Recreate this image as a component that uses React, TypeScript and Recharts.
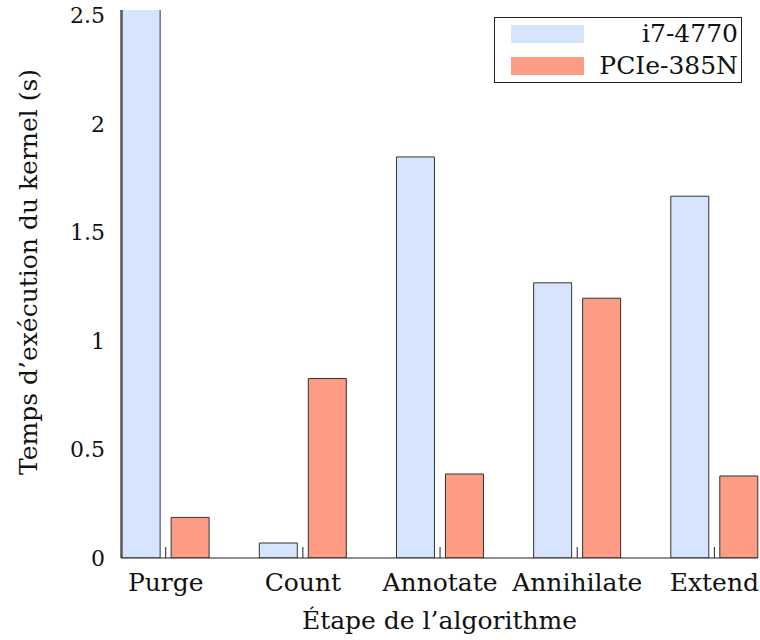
import React from 'react'
import { BarChart, Bar, XAxis, YAxis, Legend } from 'recharts'

const categories = ['Purge', 'Count', 'Annotate', 'Annihilate', 'Extend']
const seriesNames = ['i7-4770', 'PCIe-385N']
const i7Values = [2.62, 0.069, 1.848, 1.268, 1.667]
const pcieValues = [0.187, 0.827, 0.387, 1.197, 0.378]
const yTicks = [0, 0.5, 1, 1.5, 2, 2.5]
const xTicks = categories.map((_, i) => i)

const data = categories.map((name, i) => ({ idx: i, name, i7: i7Values[i], pcie: pcieValues[i] }))

const FONT = '"DejaVu Serif", serif'
const INK = '#222'
const BLUE = '#d6e4fd'
const RED = '#fd9c84'

const BottomTick = (props: any) => {
  const { x, y, payload } = props
  return (
    <g>
      <line x1={x} x2={x} y1={y} y2={y - 11} stroke={INK} strokeWidth={1} />
      <text x={x} y={y + 33} textAnchor="middle" fontSize={25} style={{ fontFamily: FONT }} fill="#111">
        {categories[payload.value]}
      </text>
    </g>
  )
}

const TopTick = (props: any) => {
  const { x, y } = props
  return <line x1={x} x2={x} y1={y} y2={y + 11} stroke={INK} strokeWidth={1} />
}

const LeftTick = (props: any) => {
  const { x, y, payload } = props
  return (
    <text x={x} y={y} dy="0.36em" textAnchor="end" fontSize={22} style={{ fontFamily: FONT }} fill="#111">
      {String(payload.value)}
    </text>
  )
}

const RightTick = (props: any) => {
  const { x, y } = props
  return <line x1={x} x2={x - 11} y1={y} y2={y} stroke={INK} strokeWidth={1} />
}

const LegendBox = (props: any) => {
  const items = [...(props.payload || [])].sort((a: any, b: any) => seriesNames.indexOf(a.value) - seriesNames.indexOf(b.value))
  return (
    <div style={{ border: `1.5px solid ${INK}`, background: '#fff', width: 248, height: 66, boxSizing: 'border-box', fontFamily: FONT }}>
      {items.map((it: any) => (
        <div key={it.value} style={{ height: 32, display: 'flex', alignItems: 'center', position: 'relative' }}>
          <div style={{ width: 73, height: 18, background: it.color, marginLeft: 16 }} />
          <div style={{ position: 'absolute', right: 3, fontSize: 25, color: '#111', lineHeight: '32px' }}>{it.value}</div>
        </div>
      ))}
    </div>
  )
}

const YLabel = (props: any) => {
  const { viewBox } = props
  const cy = viewBox.y + viewBox.height / 2 - 12
  return (
    <text transform={`translate(28,${cy}) rotate(-90)`} textAnchor="middle" dy="0.35em" fontSize={25} style={{ fontFamily: FONT }} fill="#111">
      Temps d’exécution du kernel (s)
    </text>
  )
}

const XLabel = (props: any) => {
  const { viewBox } = props
  const cx = viewBox.x + viewBox.width / 2
  return (
    <text x={cx} y={629} textAnchor="middle" fontSize={25} style={{ fontFamily: FONT }} fill="#111">
      Étape de l’algorithme
    </text>
  )
}

export default function App() {
  return (
    <div style={{ position: 'absolute', left: 0, top: 0, background: '#fff' }}>
      <BarChart width={760} height={640} data={data} margin={{ top: 10, right: 2, bottom: 0, left: 0 }} barGap={11} barSize={38}>
        <XAxis
          xAxisId="bottom"
          dataKey="idx"
          type="number"
          domain={[-0.326, 4.318]}
          ticks={xTicks}
          interval={0}
          height={82}
          tickSize={0}
          tickMargin={0}
          tickLine={false}
          tick={<BottomTick />}
          axisLine={{ stroke: INK, strokeWidth: 1.2 }}
          label={<XLabel />}
        />
        <XAxis
          xAxisId="top"
          orientation="top"
          dataKey="idx"
          type="number"
          domain={[-0.326, 4.318]}
          ticks={xTicks}
          interval={0}
          height={0}
          tickSize={0}
          tickMargin={0}
          tickLine={false}
          tick={<TopTick />}
          axisLine={{ stroke: INK, strokeWidth: 1.2 }}
        />
        <YAxis
          yAxisId="left"
          type="number"
          domain={[0, 2.525]}
          allowDataOverflow
          ticks={yTicks}
          interval={0}
          width={121}
          tickSize={0}
          tickMargin={16}
          tickLine={false}
          tick={<LeftTick />}
          axisLine={{ stroke: INK, strokeWidth: 1.2 }}
          label={<YLabel />}
        />
        <YAxis
          yAxisId="right"
          orientation="right"
          type="number"
          domain={[0, 2.525]}
          allowDataOverflow
          ticks={yTicks}
          interval={0}
          width={0}
          tickSize={0}
          tickMargin={0}
          tickLine={false}
          tick={<RightTick />}
          axisLine={{ stroke: INK, strokeWidth: 1.2 }}
        />
        <Legend
          layout="horizontal"
          verticalAlign="middle"
          align="center"
          wrapperStyle={{ top: 17, left: 494, width: 248 }}
          content={<LegendBox />}
        />
        <Bar xAxisId="bottom" yAxisId="left" dataKey="i7" name="i7-4770" fill={BLUE} stroke="#333" strokeWidth={1} isAnimationActive={false} />
        <Bar xAxisId="bottom" yAxisId="left" dataKey="pcie" name="PCIe-385N" fill={RED} stroke="#333" strokeWidth={1} isAnimationActive={false} />
      </BarChart>
    </div>
  )
}
